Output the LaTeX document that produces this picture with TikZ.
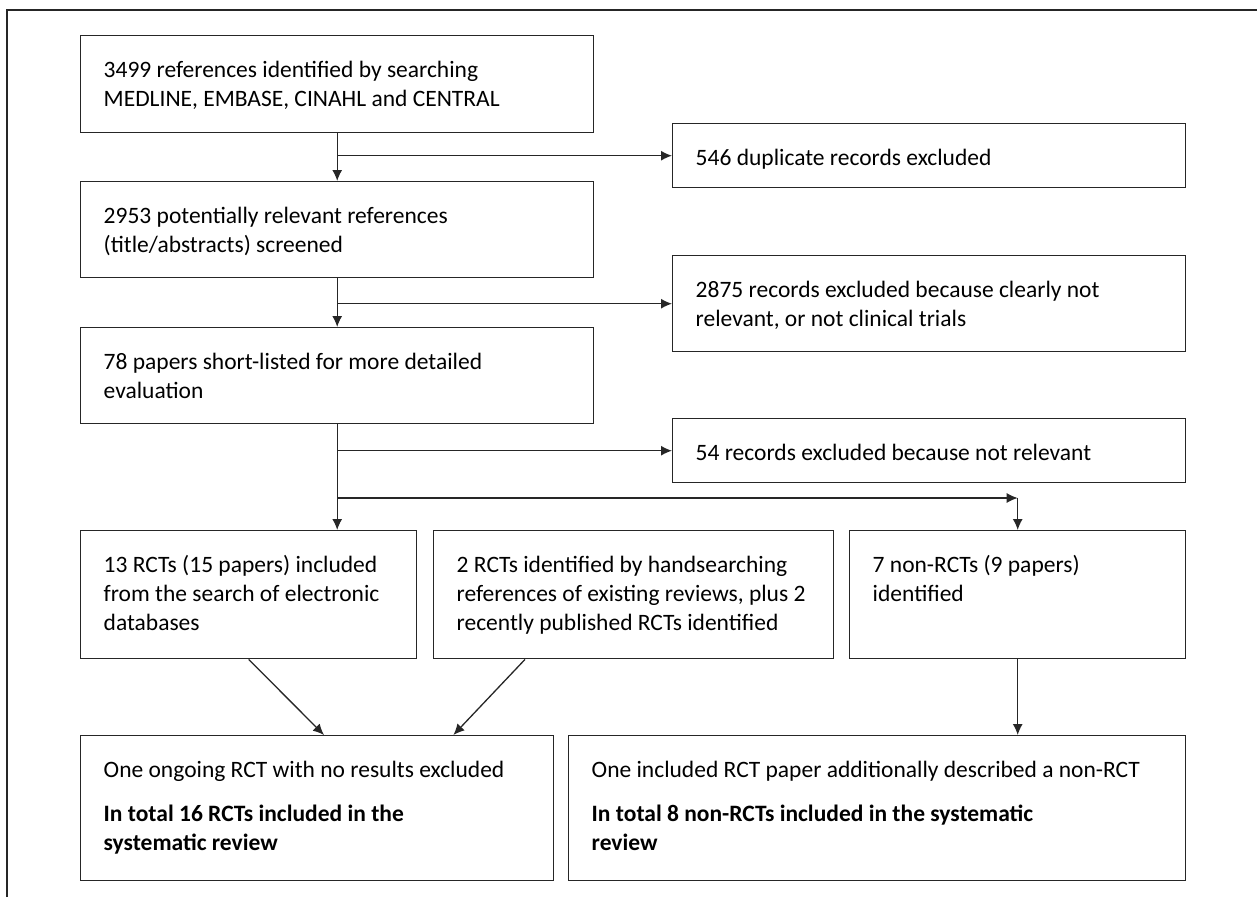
\documentclass[tikz,border=0pt]{standalone}
\usepackage{fontspec}
\setmainfont{Carlito}
\usetikzlibrary{arrows.meta,calc}

% text inside a box, set from the top
\newcommand{\boxtxt}[3]{\parbox[c][#2][t]{#1}{\raggedright\leftskip=23pt\relax\rule{0pt}{42pt}#3}}

\begin{document}
\begin{tikzpicture}
  [x=1pt,y=1pt,
   every node/.style={font=\fontsize{23.5}{29}\selectfont},
   box/.style={draw=black!85,line width=1.4pt,anchor=north west,inner sep=0pt},
   arr/.style={draw=black!85,-{Latex[length=11pt,width=10pt]},line width=1.3pt}]
  \useasboundingbox (0,0) rectangle (1257,-897);
  \draw[line width=1.4pt,black!85] (7,-897) -- (7,-10) -- (1257,-10);

  \node[box] (a) at (80,-35)  {\boxtxt{513pt}{97pt}{3499 references identified by searching\\MEDLINE, EMBASE, CINAHL and CENTRAL}};
  \node[box] (b) at (672,-123) {\boxtxt{513pt}{64pt}{546 duplicate records excluded}};
  \node[box] (c) at (80,-181) {\boxtxt{513pt}{96pt}{2953 potentially relevant references\\(title/abstracts) screened}};
  \node[box] (d) at (672,-255) {\boxtxt{513pt}{96pt}{2875 records excluded because clearly not\\relevant, or not clinical trials}};
  \node[box] (e) at (80,-327) {\boxtxt{513pt}{96pt}{78 papers short-listed for more detailed\\evaluation}};
  \node[box] (f) at (672,-418) {\boxtxt{513pt}{64pt}{54 records excluded because not relevant}};
  \node[box] (g) at (80,-530) {\boxtxt{336pt}{128pt}{13 RCTs (15 papers) included\\from the search of electronic\\databases}};
  \node[box] (h) at (433,-530) {\boxtxt{400pt}{128pt}{2 RCTs identified by handsearching\\references of existing reviews, plus 2\\recently published RCTs identified}};
  \node[box] (i) at (849,-530) {\boxtxt{336pt}{128pt}{7 non-RCTs (9 papers)\\identified}};
  \node[box] (j) at (80,-735) {\boxtxt{473pt}{145pt}{One ongoing RCT with no results excluded\\[15pt]\textbf{In total 16 RCTs included in the}\\\textbf{systematic review}}};
  \node[box] (k) at (568,-735) {\boxtxt{617pt}{145pt}{One included RCT paper additionally described a non-RCT\\[15pt]\textbf{In total 8 non-RCTs included in the systematic}\\\textbf{review}}};

  \coordinate (fork) at ($(e.south |- g.north)+(0,32)$);

  \path
    (a) edge[arr] (c)
    (a.south |- b.west) edge[arr] (b.west)
    (c) edge[arr] (e)
    (c.south |- d.west) edge[arr] (d.west)
    (e.south) edge[arr] (e.south |- g.north)
    (e.south |- f.west) edge[arr] (f.west)
    (fork) edge[arr] (fork -| i.north)
    (fork -| i.north) edge[arr] (i.north)
    (g.south) edge[arr] ($(j.north west)+(244,0)$)
    ($(h.south west)+(92,0)$) edge[arr] ($(j.north east)+(-101,0)$)
    (i) edge[arr] (i.south |- k.north);
\end{tikzpicture}
\end{document}
